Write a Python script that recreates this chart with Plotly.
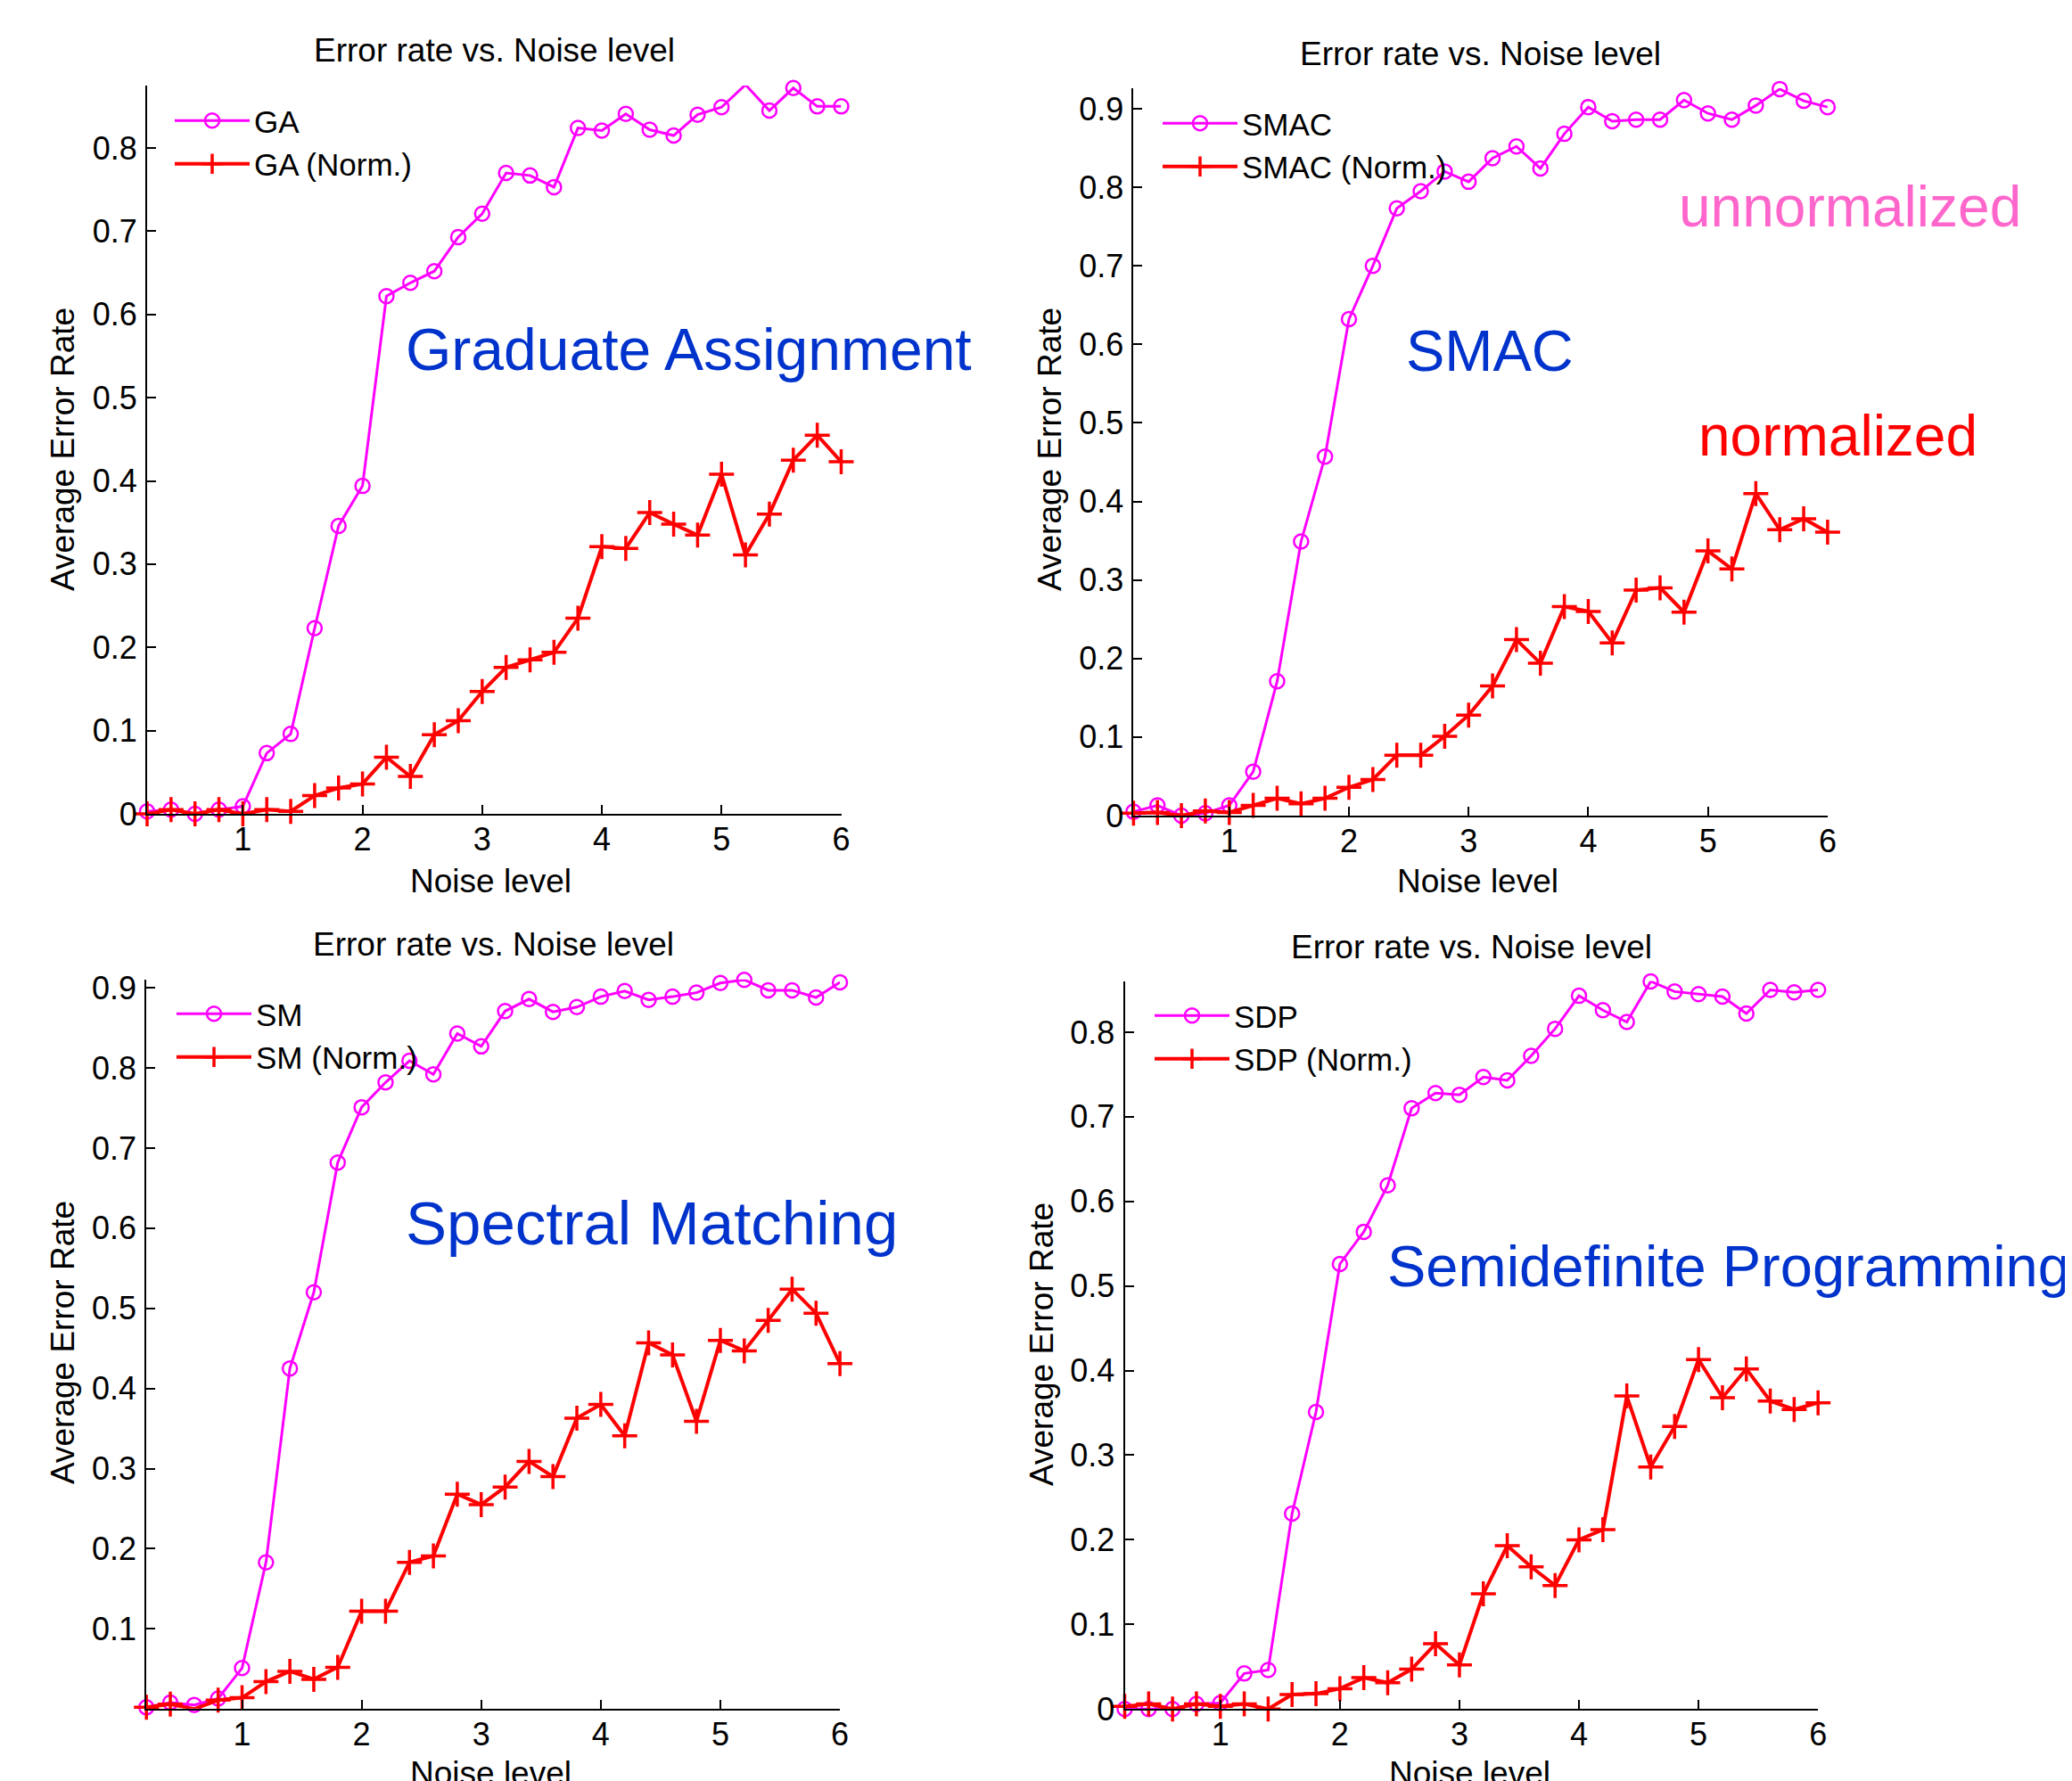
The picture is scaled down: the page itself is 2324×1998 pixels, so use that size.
import plotly.graph_objects as go

# ---------------- data ----------------
noise = [0.2, 0.4, 0.6, 0.8, 1.0, 1.2, 1.4, 1.6, 1.8, 2.0,
         2.2, 2.4, 2.6, 2.8, 3.0, 3.2, 3.4, 3.6, 3.8, 4.0,
         4.2, 4.4, 4.6, 4.8, 5.0, 5.2, 5.4, 5.6, 5.8, 6.0]

ga = [0.003, 0.005, 0.000, 0.005, 0.009, 0.073, 0.096, 0.223, 0.346, 0.394,
      0.622, 0.638, 0.652, 0.693, 0.721, 0.770, 0.767, 0.753, 0.824, 0.821,
      0.841, 0.822, 0.815, 0.840, 0.849, 0.876, 0.845, 0.872, 0.850, 0.850]
ga_norm = [0.000, 0.005, 0.000, 0.005, 0.000, 0.005, 0.003, 0.022, 0.031, 0.036,
           0.068, 0.045, 0.095, 0.112, 0.147, 0.176, 0.185, 0.194, 0.235, 0.321,
           0.319, 0.362, 0.348, 0.335, 0.408, 0.311, 0.360, 0.425, 0.455, 0.423]

smac = [0.005, 0.013, 0.000, 0.003, 0.013, 0.056, 0.171, 0.349, 0.457, 0.632,
        0.700, 0.773, 0.795, 0.820, 0.807, 0.837, 0.852, 0.824, 0.868, 0.902,
        0.884, 0.886, 0.886, 0.911, 0.894, 0.886, 0.904, 0.925, 0.910, 0.902]
smac_norm = [0.003, 0.004, 0.000, 0.006, 0.004, 0.013, 0.022, 0.015, 0.022, 0.036,
             0.046, 0.077, 0.077, 0.101, 0.128, 0.165, 0.224, 0.194, 0.266, 0.260,
             0.220, 0.287, 0.290, 0.259, 0.337, 0.314, 0.410, 0.364, 0.378, 0.361]

sm = [0.002, 0.008, 0.005, 0.013, 0.051, 0.183, 0.425, 0.520, 0.682, 0.751,
      0.782, 0.809, 0.792, 0.843, 0.827, 0.871, 0.886, 0.870, 0.876, 0.889,
      0.896, 0.885, 0.889, 0.894, 0.906, 0.910, 0.897, 0.897, 0.888, 0.907]
sm_norm = [0.002, 0.006, 0.000, 0.011, 0.014, 0.034, 0.047, 0.037, 0.052, 0.122,
           0.122, 0.183, 0.191, 0.268, 0.255, 0.277, 0.309, 0.290, 0.363, 0.380,
           0.341, 0.457, 0.442, 0.359, 0.460, 0.447, 0.485, 0.524, 0.494, 0.431]

sdp = [0.000, 0.000, 0.000, 0.006, 0.007, 0.042, 0.046, 0.231, 0.351, 0.526,
       0.564, 0.619, 0.710, 0.728, 0.726, 0.747, 0.743, 0.772, 0.804, 0.843,
       0.826, 0.812, 0.860, 0.848, 0.845, 0.842, 0.822, 0.850, 0.847, 0.850]
sdp_norm = [0.003, 0.006, 0.000, 0.006, 0.003, 0.006, 0.000, 0.017, 0.018, 0.024,
            0.037, 0.031, 0.047, 0.077, 0.052, 0.136, 0.193, 0.168, 0.146, 0.200,
            0.212, 0.370, 0.286, 0.334, 0.413, 0.368, 0.402, 0.364, 0.354, 0.362]

series_names = [("GA", "GA (Norm.)"), ("SMAC", "SMAC (Norm.)"),
                ("SM", "SM (Norm.)"), ("SDP", "SDP (Norm.)")]
series_vals = [(ga, ga_norm), (smac, smac_norm), (sm, sm_norm), (sdp, sdp_norm)]

x_ticks = [1, 2, 3, 4, 5, 6]
y_ticks = [
    [0, 0.1, 0.2, 0.3, 0.4, 0.5, 0.6, 0.7, 0.8],
    [0, 0.1, 0.2, 0.3, 0.4, 0.5, 0.6, 0.7, 0.8, 0.9],
    [0.1, 0.2, 0.3, 0.4, 0.5, 0.6, 0.7, 0.8, 0.9],
    [0, 0.1, 0.2, 0.3, 0.4, 0.5, 0.6, 0.7, 0.8],
]
y_ranges = [[0, 0.875], [0, 0.926], [0.0005, 0.9106], [0, 0.8604]]

panel_title = "Error rate vs. Noise level"
x_title = "Noise level"
y_title = "Average Error Rate"

method_labels = ["Graduate Assignment", "SMAC", "Spectral Matching", "Semidefinite Programming"]

# ---------------- layout geometry (page pixels) ----------------
PAGE_OFF = 8                  # default body margin of the html page
W, H = 2324 - PAGE_OFF, 1998 - PAGE_OFF
# (left, right, bottom, top) of each plotting area in page pixels
boxes = [
    (165.0, 943.5, 913.0, 96.0),
    (1271.4, 2049.9, 915.0, 99.0),
    (164.2, 942.1, 1916.7, 1098.7),
    (1261.5, 2039.2, 1917.2, 1100.6),
]
title_pos = [(554, 57), (1660, 60), (553, 1059), (1650, 1062)]
xlab_pos = [(550, 988), (1657, 988), (550, 1989), (1648, 1989)]
ylab_pos = [(70, 504), (1177, 504), (70, 1506), (1168, 1508)]
legend_pos = [(191, 106), (1299, 109), (193, 1108), (1290, 1110)]
method_pos = [(453, 392), (1575, 393), (453, 1372), (1554, 1420)]
method_size = [66, 65, 69, 65]


def px(x):
    return (x - PAGE_OFF) / W


def py(y):
    return 1 - (y - PAGE_OFF) / H


FONT = "Liberation Sans, Arial, sans-serif"
HAND = "Liberation Sans, Arial, sans-serif"
MAGENTA = "#FF00FF"
RED = "#FF0000"
BLUE = "#0033CC"
PINK = "#FF66CC"

fig = go.Figure()

for i in range(4):
    suffix = "" if i == 0 else str(i + 1)
    leg = "legend" if i == 0 else f"legend{i + 1}"
    n_un, n_no = series_names[i]
    v_un, v_no = series_vals[i]
    fig.add_trace(go.Scatter(
        x=noise, y=v_un, name=n_un, mode="lines+markers",
        xaxis="x" + suffix, yaxis="y" + suffix, legend=leg,
        line=dict(color=MAGENTA, width=3),
        marker=dict(symbol="circle-open", size=16, color=MAGENTA,
                    line=dict(width=2.5, color=MAGENTA)),
        cliponaxis=False,
    ))
    fig.add_trace(go.Scatter(
        x=noise, y=v_no, name=n_no, mode="lines+markers",
        xaxis="x" + suffix, yaxis="y" + suffix, legend=leg,
        line=dict(color=RED, width=4),
        marker=dict(symbol="cross-thin-open", size=20, color=RED,
                    line=dict(width=3.5, color=RED)),
        cliponaxis=False,
    ))

layout = dict(
    width=W, height=H,
    margin=dict(l=0, r=0, t=0, b=0, autoexpand=False),
    paper_bgcolor="white", plot_bgcolor="white",
    font=dict(family=FONT, size=36, color="black"),
)

annotations = []
for i in range(4):
    suffix = "" if i == 0 else str(i + 1)
    l, r, b, t = boxes[i]
    layout["xaxis" + suffix] = dict(
        domain=[px(l), px(r)], range=[0.2, 6.0], anchor="y" + suffix,
        tickvals=x_ticks, ticks="inside", ticklen=10, tickwidth=2,
        tickcolor="black", showline=True, linecolor="black", linewidth=2,
        showgrid=False, zeroline=False, ticklabelstandoff=-4,
        tickfont=dict(family=FONT, size=36, color="black"),
    )
    layout["yaxis" + suffix] = dict(
        domain=[py(b), py(t)], range=y_ranges[i], anchor="x" + suffix,
        tickvals=y_ticks[i], ticks="inside", ticklen=10, tickwidth=2,
        tickcolor="black", showline=True, linecolor="black", linewidth=2,
        showgrid=False, zeroline=False, ticklabelstandoff=2,
        tickfont=dict(family=FONT, size=36, color="black"),
    )
    leg = "legend" if i == 0 else f"legend{i + 1}"
    lx, ly = legend_pos[i]
    layout[leg] = dict(
        x=px(lx), y=py(ly), xanchor="left", yanchor="top",
        bgcolor="rgba(0,0,0,0)", borderwidth=0, itemwidth=84,
        font=dict(family=FONT, size=35, color="black"),
        tracegroupgap=0,
    )
    tx, ty = title_pos[i]
    annotations.append(dict(text=panel_title, x=px(tx), y=py(ty), xref="paper", yref="paper",
                            xanchor="center", yanchor="middle", showarrow=False,
                            font=dict(family=FONT, size=37, color="black")))
    xx, xy = xlab_pos[i]
    annotations.append(dict(text=x_title, x=px(xx), y=py(xy), xref="paper", yref="paper",
                            xanchor="center", yanchor="middle", showarrow=False,
                            font=dict(family=FONT, size=37, color="black")))
    yx, yy = ylab_pos[i]
    annotations.append(dict(text=y_title, x=px(yx), y=py(yy), xref="paper", yref="paper",
                            xanchor="center", yanchor="middle", showarrow=False, textangle=-90,
                            font=dict(family=FONT, size=37, color="black")))
    mx, my = method_pos[i]
    annotations.append(dict(text=method_labels[i], x=px(mx), y=py(my), xref="paper", yref="paper",
                            xanchor="left", yanchor="middle", showarrow=False,
                            font=dict(family=HAND, size=method_size[i], color=BLUE)))

annotations.append(dict(text="unnormalized", x=px(1881), y=py(232), xref="paper", yref="paper",
                        xanchor="left", yanchor="middle", showarrow=False,
                        font=dict(family=HAND, size=64, color=PINK)))
annotations.append(dict(text="normalized", x=px(1903), y=py(489), xref="paper", yref="paper",
                        xanchor="left", yanchor="middle", showarrow=False,
                        font=dict(family=HAND, size=64, color=RED)))

layout["annotations"] = annotations
fig.update_layout(**layout)

fig.write_html("out.html")
